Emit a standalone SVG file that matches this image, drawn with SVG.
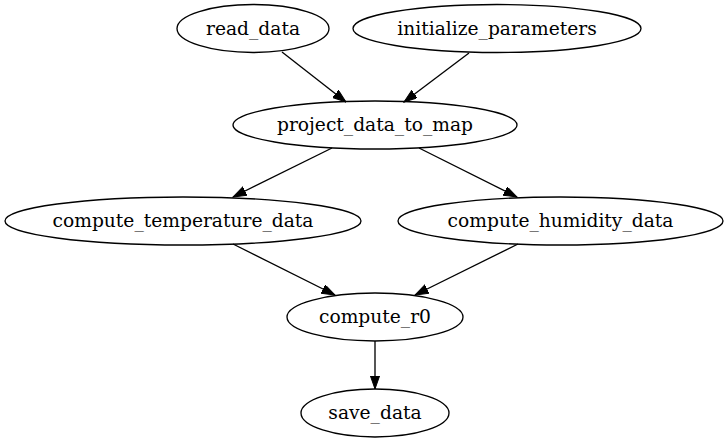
<svg xmlns="http://www.w3.org/2000/svg" width="728" height="443" viewBox="0 0 728 443">
<defs>
<style>
.node ellipse{fill:none;stroke:#000;stroke-width:1.33}
.node text{font-family:"DejaVu Serif",serif;font-size:18.67px;text-anchor:middle;fill:#000}
.edges line{stroke:#000;stroke-width:1.33}
</style>
<marker id="arr" markerUnits="userSpaceOnUse" markerWidth="14" markerHeight="10" refX="13.3" refY="4.67" orient="auto">
<path d="M0,0 L13.3,4.67 L0,9.33 z" fill="#000" stroke="#000" stroke-width="1"/>
</marker>
</defs>
<rect width="728" height="443" fill="#fff"/>
<g class="edges">
<line x1="282" y1="52" x2="346" y2="102" marker-end="url(#arr)"/>
<line x1="469" y1="53" x2="404" y2="102" marker-end="url(#arr)"/>
<line x1="332" y1="148" x2="233" y2="197" marker-end="url(#arr)"/>
<line x1="419" y1="148" x2="517" y2="197" marker-end="url(#arr)"/>
<line x1="233" y1="244" x2="335" y2="295" marker-end="url(#arr)"/>
<line x1="518" y1="244" x2="415" y2="295" marker-end="url(#arr)"/>
<line x1="375" y1="341" x2="375" y2="389" marker-end="url(#arr)"/>
</g>
<g id="read_data" class="node"><ellipse cx="253" cy="28.5" rx="76" ry="24"/><text x="253" y="34.5">read_data</text></g>
<g id="initialize_parameters" class="node"><ellipse cx="497" cy="28.5" rx="144" ry="24"/><text x="497" y="34.5">initialize_parameters</text></g>
<g id="project_data_to_map" class="node"><ellipse cx="375" cy="125" rx="142" ry="24"/><text x="375" y="131">project_data_to_map</text></g>
<g id="compute_temperature_data" class="node"><ellipse cx="183" cy="221" rx="178" ry="24"/><text x="183" y="227">compute_temperature_data</text></g>
<g id="compute_humidity_data" class="node"><ellipse cx="560.5" cy="221" rx="162.5" ry="24"/><text x="560.5" y="227">compute_humidity_data</text></g>
<g id="compute_r0" class="node"><ellipse cx="375" cy="317" rx="88" ry="24"/><text x="375" y="323">compute_r0</text></g>
<g id="save_data" class="node"><ellipse cx="375" cy="413" rx="74" ry="24"/><text x="375" y="419">save_data</text></g>
</svg>
